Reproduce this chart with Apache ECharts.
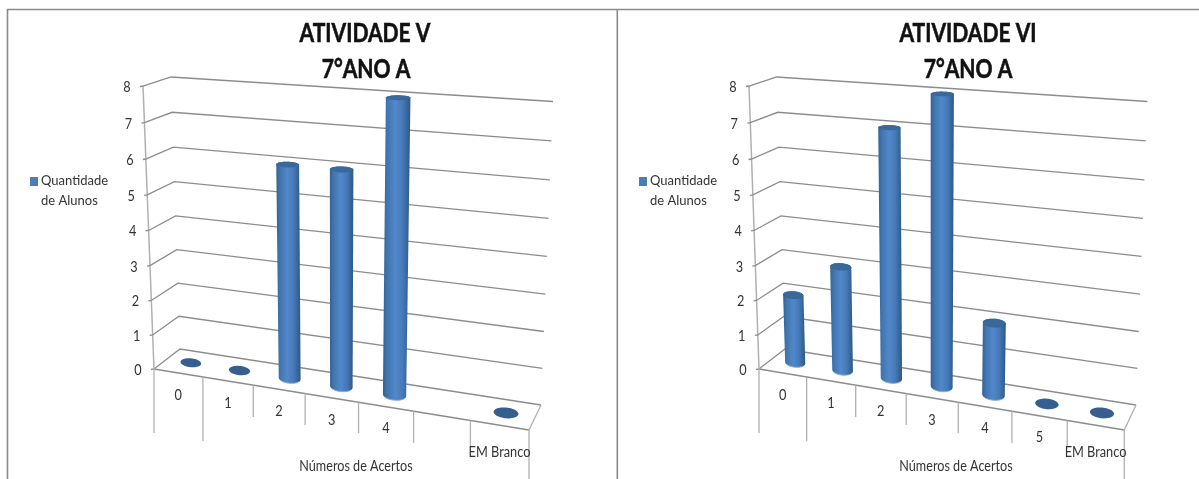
<!DOCTYPE html>
<html>
<head>
<meta charset="utf-8">
<style>html,body{margin:0;padding:0;background:#fff}#chart{width:1199px;height:479px}</style>
<script src="https://cdn.jsdelivr.net/npm/echarts@6/dist/echarts.min.js"></script>
</head>
<body>
<div id="chart"></div>
<script>
// Tick and category labels
const valueTicks = [0, 1, 2, 3, 4, 5, 6, 7, 8];
const categoriesV = ['0', '1', '2', '3', '4', '', 'EM Branco'];
const categoriesVI = ['0', '1', '2', '3', '4', '5', 'EM Branco'];

// Quantidade de alunos por número de acertos (null = coluna ausente)
const alunosV = [0, 0, 6, 6, 8, null, 0];
const alunosVI = [2, 3, 7, 8, 2, 0, 0];

const SERIES_NAME = 'Quantidade de Alunos';
const FONT = 'Lato, sans-serif';
const TEXT = '#333333';
const GRID_LINE = '#8c8c8c';
const AXIS_LINE = '#b0b0b0';
const BAR_WIDTH = 0.215;    // column radius, in category widths
const BAR_DEPTH = 0.22;     // column radius, as a share of the floor depth
const DISC_TILT = 0.07;     // slope of a cross-section on the floor; fades with height
const PERSPECTIVE_X = 0.111;
const PERSPECTIVE_H = 0.043;

// Corners of the 3D box on screen: front/back, left/right, at floor and at the axis maximum
const boxV = {
  floor: { fl: [154, 369], bl: [180, 349], fr: [529, 430], br: [541, 405] },
  roof: { fl: [143, 86], bl: [171, 77], fr: [541, 114], br: [553, 101.5] }
};
const boxVI = {
  floor: { fl: [759, 369], bl: [785, 349], fr: [1124.3, 430], br: [1136, 405] },
  roof: { fl: [749, 86], bl: [776.7, 77], fr: [1136, 114], br: [1147.3, 101.5] }
};
// Where the category separators end below the floor
const separatorEnds = [433, 441, 417, 425, 433, 443, 446, 479];

const mix = (a, b, t) => [a[0] + (b[0] - a[0]) * t, a[1] + (b[1] - a[1]) * t];

// Perspective projection: s along the categories, f up the value axis, d into the depth (all 0..1)
function project(box, s, f, d) {
  const t = s / (1 + PERSPECTIVE_X * (1 - s));
  const h = f / (1 + PERSPECTIVE_H * (1 - f));
  const at = k => mix(box.floor[k], box.roof[k], h);
  return mix(mix(at('fl'), at('fr'), t), mix(at('bl'), at('br'), t), d);
}

// Converts a data point into the 0..1 plot fractions used by project()
function unit(params, api, cat, val) {
  const cs = params.coordSys;
  const p = api.coord([cat, val]);
  return [(p[0] - cs.x) / cs.width, (cs.y + cs.height - p[1]) / cs.height];
}

function line(points, color, width) {
  return {
    type: 'polyline',
    shape: { points },
    style: { stroke: color, lineWidth: width, fill: null }
  };
}

// Text narrowed horizontally to the proportions of the chart's condensed lettering
function label(text, p, size, squeeze, heavy) {
  const style = {
    x: 0, y: 0, text,
    fill: heavy ? '#111' : TEXT,
    font: (heavy ? 'bold ' : '') + size + 'px ' + FONT,
    align: 'center',
    verticalAlign: 'middle'
  };
  if (heavy) {
    style.stroke = '#111';
    style.lineWidth = 0.6;
  }
  return { type: 'text', x: p[0], y: p[1], scaleX: squeeze, silent: true, style };
}

// Column cross-section at height f: nearly level on screen, depth taken from the box
function ellipse(box, s, f, cats) {
  const half = 0.5 / cats;
  const rx = BAR_WIDTH * (project(box, s + half, f, 0.5)[0] - project(box, s - half, f, 0.5)[0]);
  const ry = BAR_DEPTH * (project(box, s, f, 0)[1] - project(box, s, f, 1)[1]);
  const c = project(box, s, f, 0.5);
  const slope = DISC_TILT * (1 - f) + 0.01;
  const pts = [];
  for (let i = 0; i < 48; i++) {
    const a = i / 48 * Math.PI * 2;
    const dx = rx * Math.cos(a);
    pts.push([c[0] + dx, c[1] + ry * Math.sin(a) + dx * slope]);
  }
  return pts;
}

function hull(points) {
  const p = points.slice().sort((a, b) => a[0] - b[0] || a[1] - b[1]);
  const cross = (o, a, b) => (a[0] - o[0]) * (b[1] - o[1]) - (a[1] - o[1]) * (b[0] - o[0]);
  const half = list => {
    const out = [];
    list.forEach(q => {
      while (out.length > 1 && cross(out[out.length - 2], out[out.length - 1], q) <= 0) out.pop();
      out.push(q);
    });
    out.pop();
    return out;
  };
  return half(p).concat(half(p.reverse()));
}

// Wall gridlines, value axis and its labels, one item per tick
const wallRenderer = box => (params, api) => {
  const f = unit(params, api, 0, api.value(0))[1];
  const fl = project(box, 0, f, 0);
  const bl = project(box, 0, f, 1);
  const br = project(box, 1, f, 1);
  const kids = [
    line([[fl[0] - 3, fl[1] + 0.5], fl, bl, br], GRID_LINE, 1.3),
    label(String(api.value(0)), [fl[0] - 16, fl[1] + 1], 15.5, 0.82)
  ];
  if (f === 0) {
    const fr = project(box, 1, 0, 0);
    kids.push(line([fl, fr], GRID_LINE, 1.4), line([fr, br], AXIS_LINE, 1.3),
      line([fl, project(box, 0, 1, 0)], AXIS_LINE, 1.5));
  }
  return { type: 'group', children: kids };
};

// Category separators and labels under the front edge of the floor
const floorRenderer = (box, cats) => (params, api) => {
  const i = api.value(0);
  const half = 0.5 / cats.length;
  const s = unit(params, api, i, 0)[0];
  const start = project(box, s - half, 0, 0);
  const kids = [line([start, [start[0], separatorEnds[i]]], AXIS_LINE, 1.3)];
  if (i === cats.length - 1) {
    const end = project(box, 1, 0, 0);
    kids.push(line([end, [end[0], separatorEnds[i + 1]]], AXIS_LINE, 1.3));
  }
  const mid = project(box, s, 0, 0);
  const drop = i === cats.length - 1 ? 27 : 22;
  kids.push(label(cats[i], [mid[0], mid[1] + drop], 14.5, 0.88));
  return { type: 'group', children: kids };
};

// One cylinder per category; a zero value leaves only the base disc
const columnRenderer = (box, cats) => (params, api) => {
  const v = api.value(1);
  if (isNaN(v)) return null;
  const [s, f] = unit(params, api, api.value(0), v);
  const base = ellipse(box, s, 0, cats.length);
  if (v === 0) {
    return { type: 'polygon', shape: { points: base }, style: { fill: '#365f90' } };
  }
  const top = ellipse(box, s, f, cats.length);
  return {
    type: 'group',
    children: [
      {
        type: 'polygon',
        shape: { points: hull(base.concat(top)) },
        style: {
          fill: new echarts.graphic.LinearGradient(0, 0, 1, 0, [
            { offset: 0, color: '#34628f' },
            { offset: 0.14, color: '#3f74ae' },
            { offset: 0.45, color: '#5288ca' },
            { offset: 0.72, color: '#4679b8' },
            { offset: 0.93, color: '#32608f' },
            { offset: 1, color: '#2f5a87' }
          ])
        }
      },
      line(base.slice(5, 20), '#86aede', 1),
      { type: 'polygon', shape: { points: top }, style: { fill: '#3a6899' } }
    ]
  };
};

function panelSeries(index, box, cats, values) {
  const common = { type: 'custom', xAxisIndex: index, yAxisIndex: index, silent: true, animation: false };
  return [
    Object.assign({}, common, {
      name: 'wall',
      data: valueTicks.map(v => [v]),
      encode: { y: 0 },
      renderItem: wallRenderer(box)
    }),
    Object.assign({}, common, {
      name: 'floor',
      data: cats.map((c, i) => [i]),
      encode: { x: 0 },
      renderItem: floorRenderer(box, cats)
    }),
    Object.assign({}, common, {
      name: SERIES_NAME,
      itemStyle: { color: '#4a7ebb' },
      data: values.map((v, i) => [i, v === null ? '-' : v]),
      encode: { x: 0, y: 1 },
      renderItem: columnRenderer(box, cats)
    })
  ];
}

const legendFor = left => ({
  left,
  top: 171,
  padding: 0,
  itemGap: 0,
  itemWidth: 8,
  itemHeight: 40,
  selectedMode: false,
  data: [{
    name: SERIES_NAME,
    icon: 'path://M0 -6L0.01 -6Z M0 0H8V9H0Z M0 34L0.01 34Z',
    itemStyle: { color: '#4a7ebb' }
  }],
  formatter: () => 'Quantidade\nde Alunos',
  textStyle: { fontFamily: FONT, fontSize: 13, lineHeight: 20, color: TEXT, padding: [0, 0, 0, -2] }
});

const frame = points => ({
  type: 'polyline',
  silent: true,
  shape: { points },
  style: { stroke: '#8a8a8a', lineWidth: 1.6, fill: null }
});

const grid = (left) => ({ left, top: 80, width: 380, height: 290, show: false });
const xAxis = (gridIndex, cats) => ({ type: 'category', gridIndex, data: cats, show: false, boundaryGap: true });
const yAxis = gridIndex => ({ type: 'value', gridIndex, min: 0, max: 8, interval: 1, show: false });

const chart = echarts.init(document.getElementById('chart'), null, { renderer: 'canvas' });
chart.setOption({
  backgroundColor: '#fff',
  animation: false,
  legend: [legendFor(30), legendFor(639)],
  grid: [grid(160), grid(765)],
  xAxis: [xAxis(0, categoriesV), xAxis(1, categoriesVI)],
  yAxis: [yAxis(0), yAxis(1)],
  series: panelSeries(0, boxV, categoriesV, alunosV).concat(panelSeries(1, boxVI, categoriesVI, alunosVI)),
  graphic: [
    frame([[7.5, 479], [7.5, 9.5], [1199, 9.5]]),
    frame([[617.3, 9.5], [617.3, 479]]),
    label('ATIVIDADE V', [365, 33], 27, 0.78, true),
    label('7°ANO A', [366, 69], 27, 0.78, true),
    label('ATIVIDADE VI', [968, 33], 27, 0.78, true),
    label('7°ANO A', [968, 69], 27, 0.78, true),
    label('Números de Acertos', [356, 466], 14.5, 0.87),
    label('Números de Acertos', [956, 466], 14.5, 0.87)
  ]
});
</script>
</body>
</html>
